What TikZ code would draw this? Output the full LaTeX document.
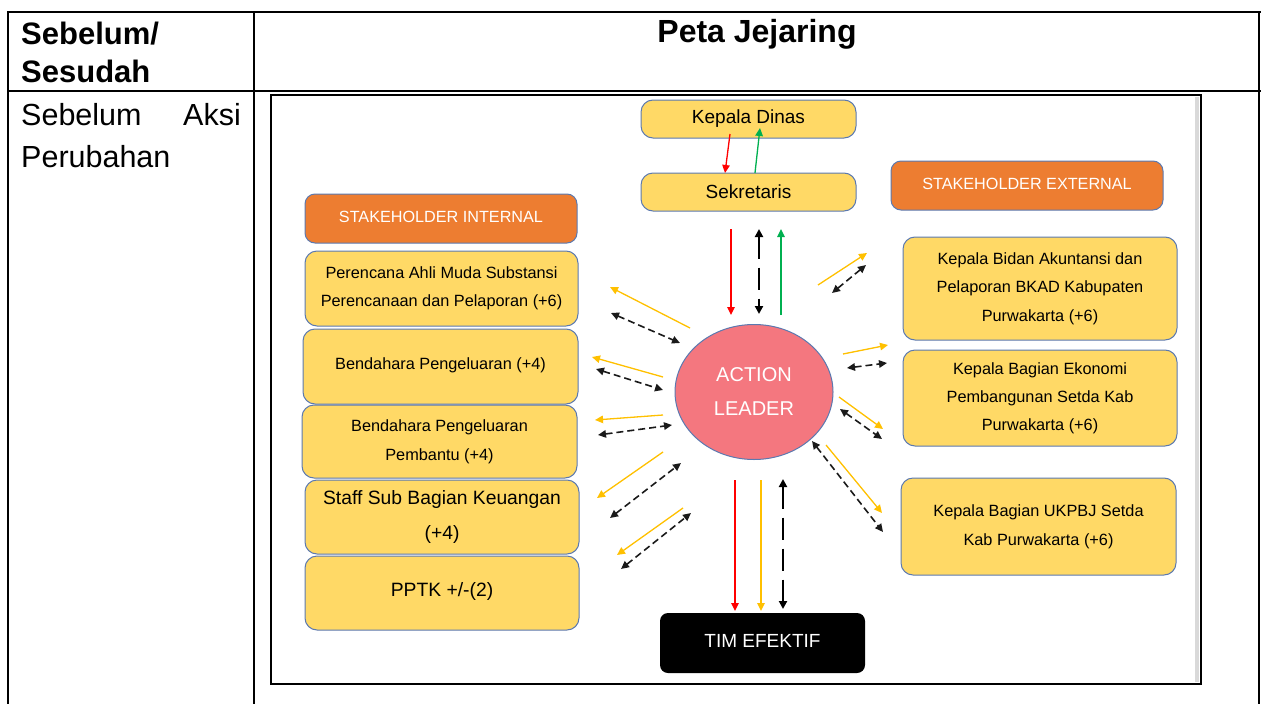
\documentclass[tikz,border=0pt]{standalone}
\usepackage{fontspec}
\setmainfont{Liberation Sans}
\usetikzlibrary{arrows.meta,shapes.geometric}
\definecolor{boxfill}{HTML}{FFD966}
\definecolor{boxline}{HTML}{5B79B0}
\definecolor{orangebox}{HTML}{ED7D31}
\definecolor{pinkel}{HTML}{F4777F}
\definecolor{arrowyellow}{HTML}{FFC000}
\definecolor{arrowgreen}{HTML}{00B050}
\definecolor{arrowred}{HTML}{FF0000}
\definecolor{darkdash}{HTML}{1A1A1A}
\tikzset{
  gbox/.style={draw=boxline, line width=1pt, fill=boxfill, rounded corners=12pt, align=center, inner sep=0pt},
  obox/.style={draw=boxline, line width=1pt, fill=orangebox, rounded corners=10pt, align=center, inner sep=0pt, text=white, font=\fontsize{16.2}{18}\selectfont},
  tip/.tip={Triangle[length=8pt,width=7.5pt]},
  solidar/.style={line width=1.3pt, -tip},
  yar/.style={solidar, draw=arrowyellow, fill=arrowyellow},
  rar/.style={solidar, draw=arrowred, fill=arrowred},
  gar/.style={solidar, draw=arrowgreen, fill=arrowgreen},
  dar/.style={line width=1.6pt, draw=darkdash, dash pattern=on 7pt off 4pt, tip-tip},
  vdar/.style={line width=2.8pt, draw=black, dash pattern=on 22pt off 9pt, {Triangle[length=8pt,width=8pt]}-{Triangle[length=8pt,width=8pt]}},
  tline/.style={line width=2pt, line cap=rect}
}
\begin{document}
\begin{tikzpicture}[x=1pt,y=-1pt]
\useasboundingbox (0,0) rectangle (1261,704);
% table
\draw[tline] (8,12) -- (1260,12);
\draw[tline] (8,91) -- (1260,91);
\draw[line width=2pt] (8,12) -- (8,704);
\draw[line width=2pt] (254,12) -- (254,704);
\draw[line width=2pt] (1259,12) -- (1259,704);
\node[anchor=west, align=left, inner sep=0pt, font=\bfseries\fontsize{31}{38}\selectfont] (hdA) at (21,52) {Sebelum/\\Sesudah};
\node[inner sep=0pt, font=\bfseries\fontsize{32}{36}\selectfont] (hdB) at (757,34) {Peta Jejaring};
\node[anchor=west, inner sep=0pt, font=\fontsize{30.5}{36}\selectfont] (sa1) at (21,115) {Sebelum};
\node[anchor=east, inner sep=0pt, font=\fontsize{30.5}{36}\selectfont] (sa2) at (241,115) {Aksi};
\node[anchor=west, inner sep=0pt, font=\fontsize{30.5}{36}\selectfont] (sa3) at (21,157) {Perubahan};
% frame
\fill[black!15] (1195,97) rectangle (1199,682);
\draw[line width=2pt] (271,95) rectangle (1201,684);
% top nodes
\node[gbox, minimum width=215pt, minimum height=38pt, font=\fontsize{19}{22}\selectfont] (kd) at (748.5,119) {Kepala Dinas};
\node[gbox, minimum width=215pt, minimum height=38pt, font=\fontsize{19}{22}\selectfont] (sk) at (748.5,192) {Sekretaris};
\node[obox, minimum width=272pt, minimum height=49pt] (se) at (1027,185.5) {\raisebox{3pt}{STAKEHOLDER EXTERNAL}};
\node[obox, minimum width=272pt, minimum height=49pt] (si) at (441,218.5) {\raisebox{3pt}{STAKEHOLDER INTERNAL}};
% left boxes
\node[gbox, minimum width=273pt, minimum height=75pt, font=\fontsize{16.3}{28}\selectfont] (p1) at (441.5,288.5) {Perencana Ahli Muda Substansi\\Perencanaan dan Pelaporan (+6)};
\node[gbox, minimum width=275pt, minimum height=75pt, font=\fontsize{16.3}{28}\selectfont] (p2) at (440.5,366.5) {\raisebox{6pt}{Bendahara Pengeluaran (+4)}};
\node[gbox, minimum width=275pt, minimum height=73pt, font=\fontsize{16.3}{29}\selectfont] (p3) at (439.5,441.5) {Bendahara Pengeluaran\\Pembantu (+4)};
\node[gbox, minimum width=274pt, minimum height=74pt, font=\fontsize{19.3}{35}\selectfont] (p4) at (442,517) {Staff Sub Bagian Keuangan\\(+4)};
\node[gbox, minimum width=274pt, minimum height=74pt, font=\fontsize{19.3}{22}\selectfont] (p5) at (442,593) {\raisebox{6pt}{PPTK +/-(2)}};
% right boxes
\node[gbox, minimum width=274pt, minimum height=103pt, font=\fontsize{16.3}{28.5}\selectfont] (r1) at (1040,288.5) {Kepala Bidan Akuntansi dan\\Pelaporan BKAD Kabupaten\\Purwakarta (+6)};
\node[gbox, minimum width=274pt, minimum height=96pt, font=\fontsize{16.3}{28}\selectfont] (r2) at (1040,398) {Kepala Bagian Ekonomi\\Pembangunan Setda Kab\\Purwakarta (+6)};
\node[gbox, minimum width=275pt, minimum height=97pt, font=\fontsize{16.3}{29}\selectfont] (r3) at (1038.5,526.5) {Kepala Bagian UKPBJ Setda\\Kab Purwakarta (+6)};
% centre and bottom
\node[ellipse, draw=boxline, line width=1pt, fill=pinkel, minimum width=158pt, minimum height=135pt, inner sep=0pt, text=white, align=center, font=\fontsize{20}{34}\selectfont] (al) at (754,392) {ACTION\\LEADER};
\node[fill=black, rounded corners=8pt, minimum width=205pt, minimum height=60pt, inner sep=0pt, text=white, font=\fontsize{19}{22}\selectfont] (te) at (762.5,643) {\raisebox{4pt}{TIM EFEKTIF}};
% Kepala Dinas <-> Sekretaris
\draw[rar] (730,134) -- (725,173);
\draw[gar] (755,173) -- (760,128);
% Sekretaris <-> Action leader
\draw[rar] (731,229) -- (731,315);
\draw[vdar] (759,229) -- (759,314);
\draw[gar] (781,315) -- (781,229);
% left side
\draw[yar] (690,328) -- (610,287);
\draw[dar] (611,313) -- (680,343);
\draw[yar] (663,377) -- (592,357);
\draw[dar] (596,369) -- (663,390);
\draw[yar] (663,415) -- (595,420);
\draw[dar] (598,435) -- (672,425);
\draw[yar] (663,452) -- (597,498);
\draw[dar] (610,518) -- (681,463);
\draw[yar] (683,508) -- (617,555);
\draw[dar] (621,569) -- (691,513);
% right side
\draw[yar] (818,285) -- (867,253);
\draw[dar] (832,293) -- (866,265);
\draw[yar] (843,354) -- (888,345);
\draw[dar] (847,368) -- (887,363);
\draw[yar] (839,397) -- (883,429);
\draw[dar] (840,409) -- (882,439);
\draw[yar] (826,445) -- (882,513);
\draw[dar] (812,441) -- (883,532);
% bottom
\draw[rar] (735,480) -- (735,611);
\draw[yar] (761,480) -- (761,611);
\draw[vdar] (783,479) -- (783,609);
\end{tikzpicture}
\end{document}
